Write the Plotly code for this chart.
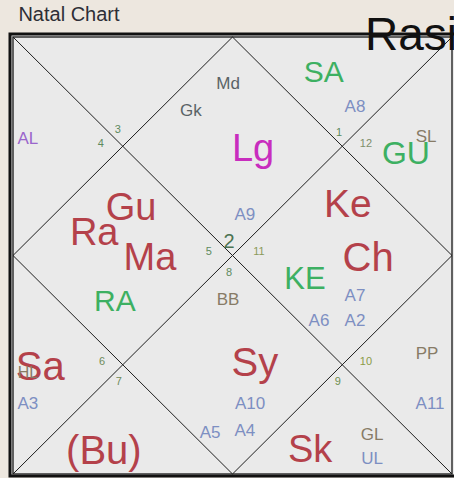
import plotly.graph_objects as go

# ---------------- data ----------------
title_text = "Natal Chart"
chart_name = "Rasi"

house_numbers = ["1", "2", "3", "4", "5", "6", "7", "8", "9", "10", "11", "12"]

# bodies / points placed in the chart
labels = ["Lg", "Md", "Gk", "SA", "A8", "SL", "GU", "AL",
          "Gu", "Ra", "Ma", "RA", "A9",
          "Ke", "Ch", "KE", "A7", "A6", "A2", "BB",
          "Sa", "HL", "A3", "Sy", "A10", "A4", "A5",
          "(Bu)", "Sk", "GL", "UL", "PP", "A11"]
kinds = ["lagna", "upa", "upa", "special", "arudha", "special_lag", "special", "arudha_l",
         "planet", "planet", "planet", "special", "arudha",
         "planet", "planet", "special", "arudha", "arudha", "arudha", "special_lag",
         "planet", "special_lag", "arudha", "planet", "arudha", "arudha", "arudha",
         "planet", "planet", "special_lag", "arudha", "special_lag", "arudha"]

# ---------------- layout (chart-fraction positions) ----------------
label_u = [0.547, 0.490, 0.405, 0.708, 0.779, 0.941, 0.895, 0.034,
           0.269, 0.185, 0.312, 0.232, 0.528,
           0.763, 0.809, 0.665, 0.779, 0.697, 0.779, 0.490,
           0.062, 0.034, 0.034, 0.551, 0.540, 0.528, 0.449,
           0.207, 0.677, 0.818, 0.818, 0.943, 0.950]
label_v = [0.254, 0.105, 0.167, 0.080, 0.158, 0.227, 0.265, 0.231,
           0.389, 0.446, 0.503, 0.604, 0.405,
           0.380, 0.503, 0.551, 0.590, 0.648, 0.648, 0.600,
           0.753, 0.767, 0.838, 0.744, 0.838, 0.899, 0.904,
           0.945, 0.941, 0.908, 0.963, 0.723, 0.838]
label_size = [38, 17, 17, 30, 17, 17, 32, 17,
              38, 38, 38, 30, 17,
              39, 40, 31, 17, 17, 17, 17,
              40, 16, 17, 40, 17, 17, 17,
              40, 38, 17, 17, 17, 17]

num_u = [0.743, 0.492, 0.239, 0.200, 0.446, 0.203, 0.241, 0.492, 0.740, 0.804, 0.560, 0.804]
num_v = [0.217, 0.467, 0.211, 0.243, 0.490, 0.741, 0.787, 0.538, 0.787, 0.741, 0.490, 0.243]
num_size = [11, 20, 11, 11, 11, 11, 11, 11, 11, 11, 11, 11]
num_color = ["#5E8A5E", "#4C7352", "#5E8A5E", "#5E8A5E", "#5E8A5E", "#6E8A5A", "#6E8A5A",
             "#5E8A5E", "#6E9050", "#8A9A48", "#8A9A5A", "#7E8E6A"]

kind_color = {
    "planet": "#B4414A",
    "special": "#3DB062",
    "lagna": "#C82DBE",
    "arudha": "#7D8FC2",
    "arudha_l": "#9A66CC",
    "upa": "#5A6366",
    "special_lag": "#877B66",
}

FONT = "Liberation Sans, Arial, sans-serif"
W, H = 454, 478
# chart box in pixels
BL, BT, BR, BB_ = 13, 37, 452, 474
bw, bh = BR - BL, BB_ - BT
xr = [-BL / bw, (W - BL) / bw]
yr = [(H - BT) / bh, -BT / bh]
SHIFT = 0.1  # em, to put the cap-height centre on the anchor


def adj(vs, sizes):
    return [v + SHIFT * s / bh for v, s in zip(vs, sizes)]


fig = go.Figure()

# frame: outer thick border and inner border
fig.add_shape(type="rect", x0=-3 / bw, y0=-3 / bh, x1=(BR + 4 - BL) / bw, y1=1 + 2 / bh,
              xref="x", yref="y", line=dict(color="#111111", width=3), fillcolor="#EAEAEA", layer="below")
fig.add_shape(type="rect", x0=0, y0=0, x1=1, y1=1,
              xref="x", yref="y", line=dict(color="#333333", width=1.5), fillcolor="#EAEAEA", layer="below")

# diagonals and diamond
line_style = dict(color="#1E1E1E", width=1)
fig.add_trace(go.Scatter(x=[0, 1], y=[0, 1], mode="lines", line=line_style, hoverinfo="skip"))
fig.add_trace(go.Scatter(x=[1, 0], y=[0, 1], mode="lines", line=line_style, hoverinfo="skip"))
fig.add_trace(go.Scatter(x=[0.5, 1, 0.5, 0, 0.5], y=[0, 0.5, 1, 0.5, 0], mode="lines",
                         line=line_style, hoverinfo="skip"))

# house numbers
fig.add_trace(go.Scatter(x=num_u, y=adj(num_v, num_size), mode="text", text=house_numbers,
                         textposition="middle center",
                         textfont=dict(family=FONT, size=num_size, color=num_color),
                         hoverinfo="skip"))

# labels
fig.add_trace(go.Scatter(x=label_u, y=adj(label_v, label_size), mode="text", text=labels,
                         textposition="middle center",
                         textfont=dict(family=FONT, size=label_size,
                                       color=[kind_color[k] for k in kinds]),
                         hoverinfo="skip"))

# titles
fig.add_trace(go.Scatter(x=[(69 - BL) / bw], y=[(15.5 - BT) / bh], mode="text", text=[title_text],
                         textposition="middle center",
                         textfont=dict(family=FONT, size=20, color="#2E2E36"), hoverinfo="skip"))
fig.add_trace(go.Scatter(x=[(411 - BL) / bw], y=[(33.5 - BT + SHIFT * 46) / bh], mode="text",
                         text=[chart_name], textposition="middle center",
                         textfont=dict(family=FONT, size=46, color="#111111"), hoverinfo="skip"))

fig.update_layout(
    width=W, height=H,
    margin=dict(l=0, r=0, t=0, b=0),
    paper_bgcolor="#EDE7DF",
    plot_bgcolor="rgba(0,0,0,0)",
    showlegend=False,
    xaxis=dict(range=xr, visible=False, fixedrange=True),
    yaxis=dict(range=yr, visible=False, fixedrange=True),
)

fig.write_html("out.html", config={"displayModeBar": False},
               post_script="document.body.style.margin='0';document.body.style.overflow='hidden';")
